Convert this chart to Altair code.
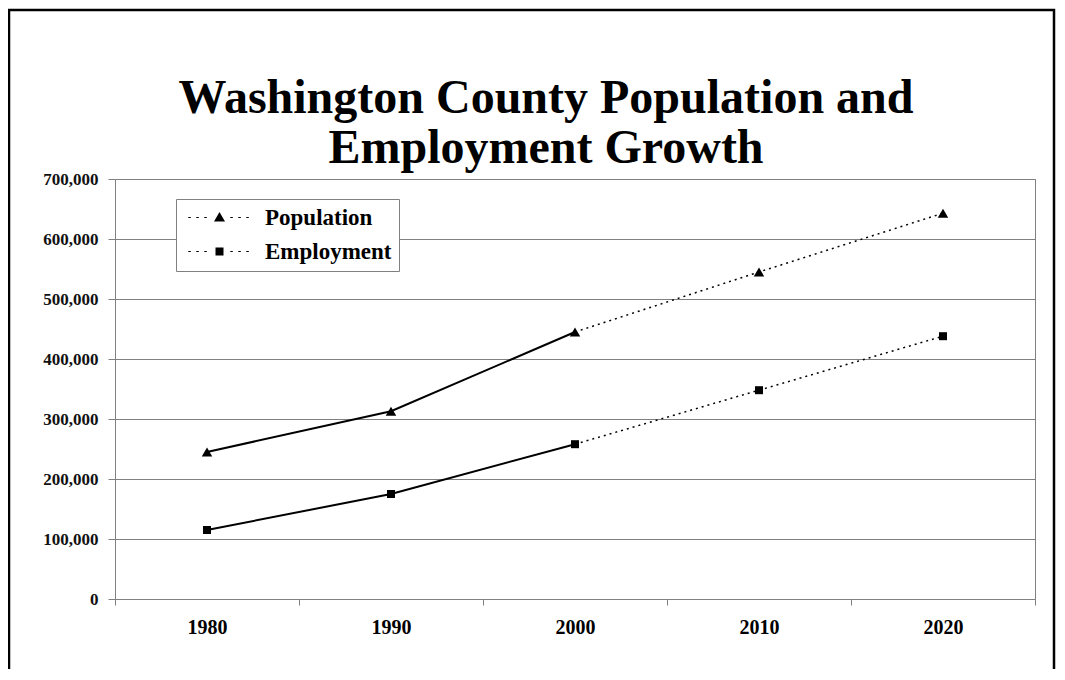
import altair as alt
import pandas as pd

years = ["1980", "1990", "2000", "2010", "2020"]
population = [245000, 313000, 445000, 545000, 643000]
employment = [115000, 175000, 258000, 348000, 438000]
series_names = ["Population", "Employment"]
actual_years = ["1980", "1990", "2000"]
projected_years = ["2000", "2010", "2020"]
y_ticks = [0, 100000, 200000, 300000, 400000, 500000, 600000, 700000]
title_lines = ["Washington County Population and", "Employment Growth"]

rows = []
for name, vals in zip(series_names, [population, employment]):
    for yr, v in zip(years, vals):
        rows.append({"year": yr, "value": v, "series": name})
df = pd.DataFrame(rows)
actual = df[df["year"].isin(actual_years)]
projected = df[df["year"].isin(projected_years)]

FONT = "Liberation Serif"
GRAY = "#808080"


def dot(cx):
    return f"M{cx - 0.12:.2f},-0.06h0.25v0.12h-0.25Z"


dots = "".join(dot(c) for c in [-3.0, -2.2, -1.4, 1.2, 2.0, 2.8])
tri_path = "M0,-0.55L0.55,0.4L-0.55,0.4Z" + dots
sq_path = "M-0.4,-0.4h0.8v0.8h-0.8Z" + dots

x = alt.X(
    "year:O",
    scale=alt.Scale(type="band", domain=years, paddingInner=0, paddingOuter=0),
    axis=alt.Axis(
        title=None, labelAngle=0, tickBand="extent", grid=False,
        labelFont=FONT, labelFontSize=20, labelFontWeight="bold", labelColor="black",
        labelPadding=12, tickSize=6, tickColor=GRAY, domainColor=GRAY,
    ),
)
y = alt.Y(
    "value:Q",
    scale=alt.Scale(domain=[0, 700000], nice=False),
    axis=alt.Axis(
        title=None, values=y_ticks, format=",d", grid=True, gridColor=GRAY,
        labelFont=FONT, labelFontSize=17, labelFontWeight="bold", labelColor="#111111",
        labelPadding=10, tickSize=7, tickColor=GRAY, domainColor=GRAY,
    ),
)

frame = alt.Chart(alt.Data(values=[{"k": 1}])).mark_rect(
    fillOpacity=0, stroke="black", strokeWidth=2.5
).encode(
    x=alt.value(-106), x2=alt.value(939), y=alt.value(-169), y2=alt.value(560)
)

solid = alt.Chart(actual).mark_line(color="black", strokeWidth=2).encode(
    x=x, y=y, detail="series:N"
)
dotted = alt.Chart(projected).mark_line(
    color="black", strokeWidth=1.5, strokeDash=[2, 4]
).encode(x=x, y=y, detail="series:N")

points = alt.Chart(df).mark_point(filled=True, color="black", opacity=1).encode(
    x=x, y=y,
    shape=alt.Shape(
        "series:N",
        scale=alt.Scale(domain=series_names, range=["triangle-up", "square"]),
        legend=None,
    ),
    size=alt.Size(
        "series:N",
        scale=alt.Scale(domain=series_names, range=[110, 64]),
        legend=None,
    ),
)

legend_layer = alt.Chart(df).transform_filter("false").mark_point(
    filled=True, color="black", opacity=1
).encode(
    x=x, y=y,
    shape=alt.Shape(
        "series:N",
        scale=alt.Scale(domain=series_names, range=[tri_path, sq_path]),
        legend=alt.Legend(
            title=None, orient="none", legendX=61, legendY=20,
            padding=7, strokeColor=GRAY, fillColor="white",
            labelFont=FONT, labelFontSize=23, labelFontWeight="bold", labelColor="black",
            symbolSize=400, symbolOffset=25, labelOffset=34, rowPadding=10,
            symbolFillColor="black", symbolStrokeColor="black", symbolStrokeWidth=0,
        ),
    ),
)

chart = alt.layer(frame, solid, dotted, points, legend_layer).resolve_scale(
    shape="independent", size="independent"
).properties(
    width=920,
    height=420,
    autosize=alt.AutoSizeParams(type="none"),
    padding={"left": 107, "top": 171, "right": 22, "bottom": 70},
    background="white",
    title=alt.TitleParams(
        title_lines, font=FONT, fontSize=48, fontWeight="bold", color="black",
        lineHeight=50, anchor="middle", frame="group", dx=-29, dy=168, offset=4,
    ),
).configure_view(stroke=GRAY, strokeWidth=1)

chart.save("out.html", embed_options={"renderer": "svg", "actions": False})
